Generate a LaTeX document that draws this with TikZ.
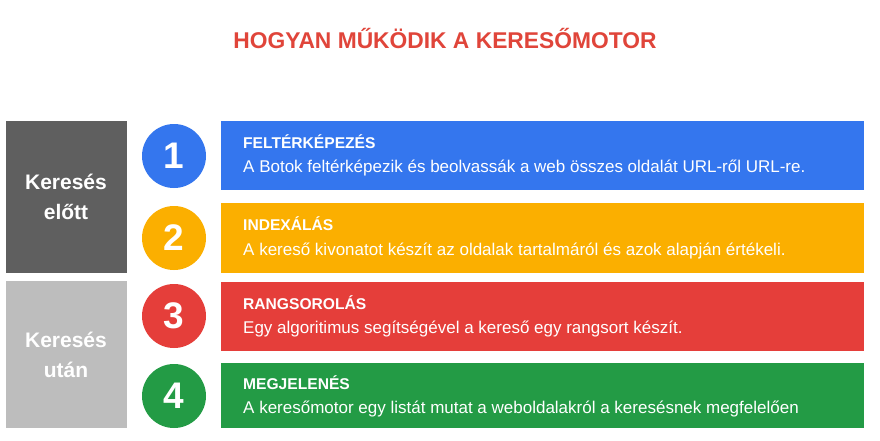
\documentclass[tikz,border=0pt]{standalone}
\usepackage{fontspec}
\setmainfont{Liberation Sans}
\definecolor{gblue}{HTML}{3476EE}
\definecolor{gyellow}{HTML}{FBAF00}
\definecolor{gred}{HTML}{E53E3A}
\definecolor{ggreen}{HTML}{239B45}
\definecolor{gdark}{HTML}{5F5F5F}
\definecolor{glight}{HTML}{BDBDBD}
\definecolor{titlered}{HTML}{E0453A}
\begin{document}
\begin{tikzpicture}[x=1pt,y=-1pt,
	num/.style={circle,minimum size=64pt,inner sep=0pt,text=white,font=\fontsize{37}{40}\selectfont\bfseries},
	head/.style={anchor=base west,inner sep=0pt,text=white,font=\fontsize{15.6}{18}\selectfont\bfseries},
	desc/.style={anchor=base west,inner sep=0pt,text=white,font=\fontsize{17}{20}\selectfont},
	side/.style={align=center,inner sep=0pt,text=white,font=\fontsize{21}{30}\selectfont\bfseries}]
	\useasboundingbox[fill=white] (0,0) rectangle (880,440);
	\node[anchor=base,inner sep=0pt,text=titlered,font=\fontsize{22.8}{26}\selectfont\bfseries] (title) at (445,48) {HOGYAN MŰKÖDIK A KERESŐMOTOR};
	% phases
	\fill[gdark] (6,121) rectangle (127,273);
	\node[side] (before) at (66,197) {Keresés\\előtt};
	\fill[glight] (6,281) rectangle (127,428);
	\node[side] (after) at (66,355) {Keresés\\után};
	% steps
	\fill[gblue] (221,121) rectangle (864,190);
	\node[num,fill=gblue] (n1) at (174,156) {1};
	\node[head] (h1) at (243,148) {FELTÉRKÉPEZÉS};
	\node[desc] (d1) at (243,172) {A Botok feltérképezik és beolvassák a web összes oldalát URL-ről URL-re.};
	\fill[gyellow] (221,203) rectangle (864,273);
	\node[num,fill=gyellow] (n2) at (174,238) {2};
	\node[head] (h2) at (243,230) {INDEXÁLÁS};
	\node[desc] (d2) at (243,255) {A kereső kivonatot készít az oldalak tartalmáról és azok alapján értékeli.};
	\fill[gred] (221,282) rectangle (864,351);
	\node[num,fill=gred] (n3) at (174,316) {3};
	\node[head] (h3) at (243,309) {RANGSOROLÁS};
	\node[desc] (d3) at (243,333) {Egy algoritimus segítségével a kereső egy rangsort készít.};
	\fill[ggreen] (221,363) rectangle (864,428);
	\node[num,fill=ggreen] (n4) at (174,396) {4};
	\node[head] (h4) at (243,389) {MEGJELENÉS};
	\node[desc] (d4) at (243,413) {A keresőmotor egy listát mutat a weboldalakról a keresésnek megfelelően};
\end{tikzpicture}
\end{document}
